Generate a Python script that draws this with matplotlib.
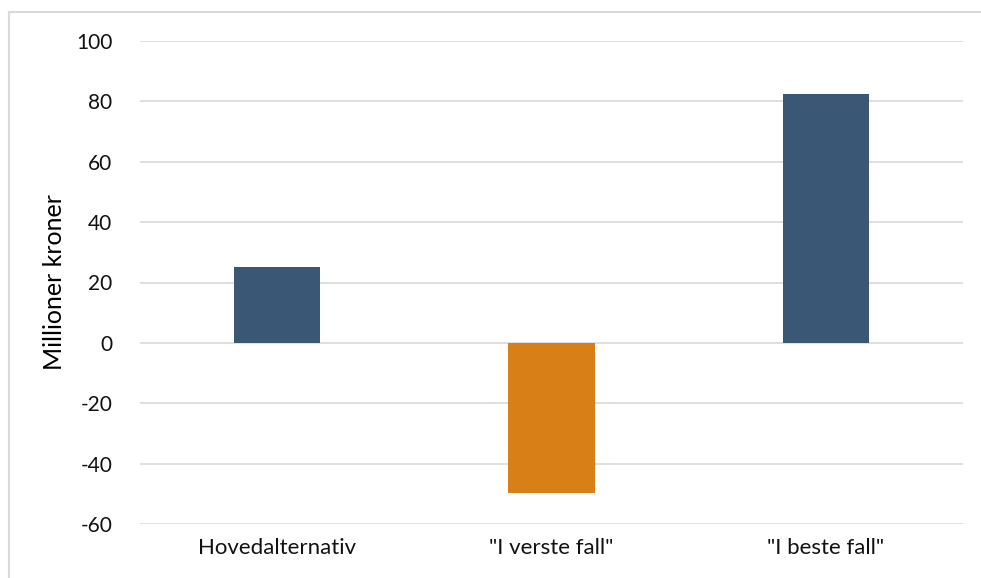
import matplotlib
matplotlib.use('Agg')
import matplotlib.pyplot as plt
from matplotlib.lines import Line2D

# scenario results, million NOK
categories = ['Hovedalternativ', '"I verste fall"', '"I beste fall"']
values = [25.2, -49.8, 82.5]
bar_colors = ['#3A5775', '#D87F18', '#3A5775']
yticks = [-60, -40, -20, 0, 20, 40, 60, 80, 100]

plt.rcParams['font.family'] = ['Lato', 'DejaVu Sans']

W, H = 981, 578
fig = plt.figure(figsize=(W/100, H/100), dpi=100)
ax = fig.add_axes([140/W, 1-524/H, (963-140)/W, (524-41)/H])

x = list(range(len(categories)))
ax.bar(x, values, width=0.314, color=bar_colors, zorder=3)

ax.set_xlim(-0.5, len(categories)-0.5)
ax.set_ylim(-60, 100)
ax.set_yticks(yticks)
ax.set_yticklabels([str(t) for t in yticks], fontsize=15)
ax.set_xticks(x)
ax.set_xticklabels(categories, fontsize=16)
ax.tick_params(axis='both', length=0, colors='#111111')
ax.tick_params(axis='y', pad=20)
ax.tick_params(axis='x', pad=10)
ax.grid(axis='y', color='#D9D9D9', linewidth=1.2, zorder=0)
for s in ax.spines.values():
    s.set_visible(False)
ax.set_ylabel('Millioner kroner', fontsize=18)
ax.yaxis.set_label_coords((66-140)/(963-140), 0.5)

# light frame edges (top and left) around the chart area
fig.add_artist(Line2D([9/W, 1], [1-12/H, 1-12/H], transform=fig.transFigure,
                      color='#D9D9D9', linewidth=1.5))
fig.add_artist(Line2D([9/W, 9/W], [0, 1-12/H], transform=fig.transFigure,
                      color='#D9D9D9', linewidth=1.5))

fig.savefig('out.png', dpi=100)
